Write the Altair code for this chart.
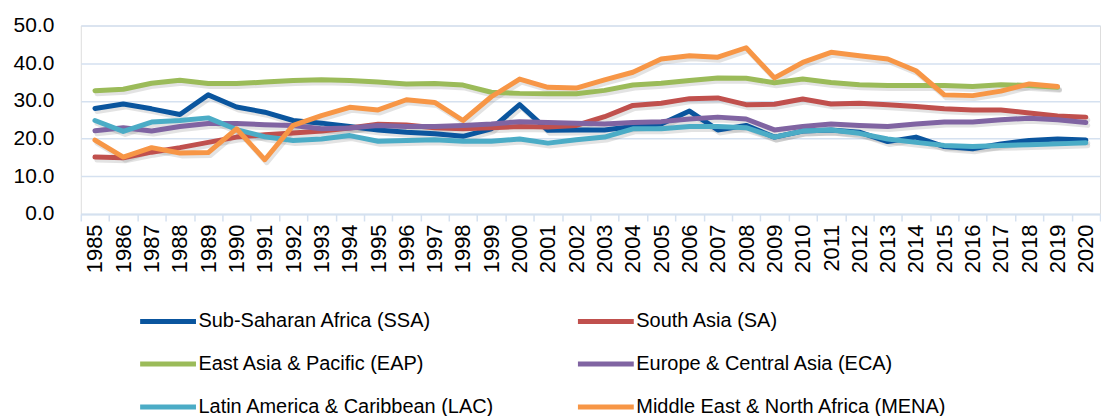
import altair as alt
import pandas as pd

years = [str(y) for y in range(1985, 2021)]

series_names = [
    "Sub-Saharan Africa (SSA)",
    "South Asia (SA)",
    "East Asia & Pacific (EAP)",
    "Europe & Central Asia (ECA)",
    "Latin America & Caribbean (LAC)",
    "Middle East & North Africa (MENA)",
]
series_colors = ["#0A559E", "#C0504D", "#9BBB59", "#8064A2", "#4BACC6", "#F79646"]
# legend is filled column by column, so list it in that order
legend_order = [0, 2, 4, 1, 3, 5]

ssa = [28.0, 29.2, 27.9, 26.4, 31.6, 28.4, 27.0, 24.8, 24.1, 23.2, 22.3, 21.7,
       21.3, 20.6, 22.6, 29.0, 22.2, 22.3, 22.3, 23.2, 23.9, 27.3, 22.3, 23.5,
       20.4, 22.0, 22.3, 21.7, 19.2, 20.4, 17.9, 17.3, 18.6, 19.5, 19.9, 19.6]
sa = [15.1, 14.9, 16.4, 17.6, 19.0, 20.4, 21.0, 21.5, 22.0, 22.8, 23.8, 23.6,
      22.9, 22.6, 22.9, 23.2, 23.1, 23.5, 25.8, 28.8, 29.4, 30.6, 30.8, 29.0,
      29.1, 30.5, 29.2, 29.4, 29.0, 28.5, 27.9, 27.6, 27.6, 26.8, 26.0, 25.7]
eap = [32.7, 33.1, 34.7, 35.5, 34.6, 34.6, 35.0, 35.4, 35.6, 35.4, 35.0, 34.5,
       34.6, 34.2, 32.3, 32.0, 31.9, 31.9, 32.8, 34.2, 34.7, 35.4, 36.1, 36.0,
       34.8, 35.8, 34.9, 34.3, 34.1, 34.1, 34.1, 33.8, 34.3, 34.1, 33.6, None]
eca = [22.1, 22.9, 22.0, 23.2, 24.0, 24.0, 23.7, 23.5, 22.6, 22.8, 23.5, 23.2,
       23.2, 23.5, 23.9, 24.5, 24.3, 24.1, 23.9, 24.3, 24.5, 25.2, 25.7, 25.2,
       22.3, 23.2, 23.9, 23.5, 23.2, 23.9, 24.4, 24.4, 25.0, 25.4, 25.0, 24.3]
lac = [24.8, 21.9, 24.4, 24.8, 25.5, 22.4, 20.5, 19.5, 19.9, 20.8, 19.3, 19.5,
       19.7, 19.3, 19.3, 19.9, 18.8, 19.7, 20.4, 22.6, 22.6, 23.2, 23.2, 22.9,
       20.4, 22.0, 22.3, 21.4, 19.9, 19.0, 18.2, 17.9, 18.2, 18.4, 18.6, 18.9]
mena = [19.6, 15.1, 17.6, 16.2, 16.3, 22.6, 14.4, 23.5, 26.1, 28.3, 27.6, 30.3,
        29.6, 24.8, 31.1, 35.8, 33.6, 33.4, 35.6, 37.6, 41.1, 42.0, 41.6, 44.1,
        36.1, 40.2, 42.9, 42.0, 41.1, 38.0, 31.6, 31.4, 32.6, 34.5, 33.8, None]

y_ticks = [0, 10, 20, 30, 40, 50]

rows = []
for k, (name, vals) in enumerate(zip(series_names, [ssa, sa, eap, eca, lac, mena])):
    for yr, v in zip(years, vals):
        if v is not None:
            rows.append({"year": yr, "series": name, "value": v, "z": k})
df = pd.DataFrame(rows)

dom = [series_names[i] for i in legend_order]
rng = [series_colors[i] for i in legend_order]

grid_color = "#D5E1F0"
font = "Liberation Sans"

x_enc = alt.X(
    "year:O",
    sort=years,
    scale=alt.Scale(type="band", paddingInner=0, paddingOuter=0),
    axis=alt.Axis(
        title=None, labelAngle=-90, labelFontSize=22, labelFont=font,
        labelColor="#000000", domainColor=grid_color, domainWidth=2,
        tickColor=grid_color, tickWidth=1.5, tickSize=7, tickBand="extent",
        labelPadding=3, grid=False,
    ),
)
y_enc = alt.Y(
    "value:Q",
    scale=alt.Scale(domain=[0, 50], nice=False),
    axis=alt.Axis(
        title=None, values=y_ticks, format=".1f", labelFontSize=21,
        labelFont=font, labelColor="#000000", domain=False, ticks=False,
        labelPadding=27, gridColor=grid_color, gridWidth=1.5,
    ),
)

shadow = alt.Chart(df).mark_line(
    strokeWidth=5, color="#7f7f7f", opacity=0.22, xOffset=2, yOffset=3,
    strokeCap="round", strokeJoin="round",
).encode(x=x_enc, y=y_enc, detail="series:N")

layers = [shadow]
for k, name in enumerate(series_names):
    layers.append(
        alt.Chart(df).transform_filter(alt.datum.series == name).mark_line(
            strokeWidth=5, strokeCap="round", strokeJoin="round",
        ).encode(
            x=x_enc,
            y=y_enc,
            color=alt.Color(
                "series:N",
                scale=alt.Scale(domain=dom, range=rng),
                legend=alt.Legend(
                    title=None, orient="none", legendX=57, legendY=266,
                    columns=2, symbolType="stroke", symbolSize=3136,
                    symbolStrokeWidth=5, labelFontSize=20, labelFont=font,
                    labelColor="#000000", labelLimit=0,
                    columnPadding=73, rowPadding=2, labelOffset=0,
                ),
            ),
        )
    )

chart = alt.layer(*layers).properties(
    width=1022, height=189,
    padding={"left": 5, "top": 6, "right": 0, "bottom": 0},
).configure_view(stroke=None).configure(background="white")

chart.save("out.html", embed_options={"renderer": "svg", "actions": False})
